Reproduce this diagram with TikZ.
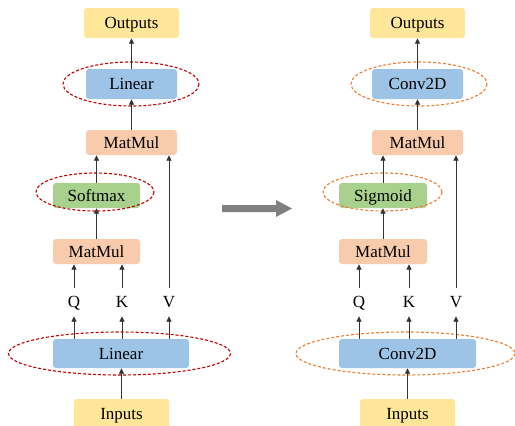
\documentclass[tikz,border=0pt]{standalone}
\usepackage{fontspec}
\setmainfont{Liberation Serif}
\usetikzlibrary{arrows.meta}
\definecolor{cyel}{HTML}{FFE699}
\definecolor{cblue}{HTML}{9DC3E6}
\definecolor{corg}{HTML}{F8CBAD}
\definecolor{cgrn}{HTML}{A9D18E}
\definecolor{cred}{HTML}{C00000}
\definecolor{cdash}{HTML}{ED7D31}
\definecolor{cgray}{HTML}{808080}
\begin{document}
\begin{tikzpicture}[x=1pt,y=-1pt,
  box/.style={rounded corners=3pt,inner sep=0pt,text height=11.3pt,text depth=0pt,font=\fontsize{17}{20}\selectfont},
  yel/.style={box,fill=cyel,minimum width=95pt,minimum height=30pt},
  blu/.style={box,fill=cblue},
  org/.style={box,fill=corg,minimum height=25pt},
  grn/.style={box,fill=cgrn,minimum height=25pt},
  lbl/.style={inner sep=0pt,minimum height=28pt,text height=11.3pt,text depth=0pt,font=\fontsize{17}{20}\selectfont},
  arr/.style={draw=black!80,line width=0.9pt,-{Triangle[length=5.5pt,width=5pt]}},
  ell/.style={dashed,dash pattern=on 3pt off 2pt,line width=1.1pt},
]
\useasboundingbox (0,0) rectangle (515,426);
% ---------------- left ----------------
\node[yel] (out1) at (131.5,23) {Outputs};
\node[blu,minimum width=91pt,minimum height=30pt] (lin2) at (131.5,84) {Linear};
\node[org,minimum width=91pt] (mm2) at (131.5,142.5) {MatMul};
\node[grn,minimum width=87pt] (soft) at (96.5,195.5) {Softmax};
\node[org,minimum width=87pt] (mm1) at (96.5,251.5) {MatMul};
\node[lbl] (q1) at (74,302) {Q};
\node[lbl] (k1) at (122,302) {K};
\node[lbl] (v1) at (169,302) {V};
\node[blu,minimum width=136pt,minimum height=29pt] (lin1) at (121,353.5) {Linear};
\node[yel] (in1) at (121.5,414) {Inputs};
\draw[ell,cred] (131,84) ellipse [x radius=68, y radius=22];
\draw[ell,cred] (95,192) ellipse [x radius=59, y radius=19];
\draw[ell,cred] (119.5,353.5) ellipse [x radius=111, y radius=21.5];
\draw[arr] (in1.north) -- (in1.north |- lin1.south);
\draw[arr] (q1 |- lin1.north) -- (q1.south);
\draw[arr] (k1 |- lin1.north) -- (k1.south);
\draw[arr] (v1 |- lin1.north) -- (v1.south);
\draw[arr] (q1.north) -- (q1 |- mm1.south);
\draw[arr] (k1.north) -- (k1 |- mm1.south);
\draw[arr] (mm1.north) -- (soft.south);
\draw[arr] (soft.north) -- (soft.north |- mm2.south);
\draw[arr] (v1.north) -- (v1 |- mm2.south);
\draw[arr] (mm2.north) -- (lin2.south);
\draw[arr] (lin2.north) -- (out1.south);
% ---------------- arrow ----------------
\fill[cgray] (222,205) -- (276,205) -- (276,200) -- (292,208.5) -- (276,217) -- (276,212) -- (222,212) -- cycle;
% ---------------- right ----------------
\node[yel] (out2) at (417.5,23) {Outputs};
\node[blu,minimum width=91pt,minimum height=30pt] (cv2) at (417.5,84) {Conv2D};
\node[org,minimum width=91pt] (mm4) at (417.5,142.5) {MatMul};
\node[grn,minimum width=88pt] (sig) at (383,195.5) {Sigmoid};
\node[org,minimum width=88pt] (mm3) at (383,251.5) {MatMul};
\node[lbl] (q2) at (359,302) {Q};
\node[lbl] (k2) at (409,302) {K};
\node[lbl] (v2) at (456,302) {V};
\node[blu,minimum width=137pt,minimum height=29pt] (cv1) at (407.5,353.5) {Conv2D};
\node[yel] (in2) at (407.5,414) {Inputs};
\draw[ell,cdash] (419,84) ellipse [x radius=68, y radius=22];
\draw[ell,cdash] (382.5,192) ellipse [x radius=59.5, y radius=19];
\draw[ell,cdash] (405.5,353.5) ellipse [x radius=109.5, y radius=21.5];
\draw[arr] (in2.north) -- (in2.north |- cv1.south);
\draw[arr] (q2 |- cv1.north) -- (q2.south);
\draw[arr] (k2 |- cv1.north) -- (k2.south);
\draw[arr] (v2 |- cv1.north) -- (v2.south);
\draw[arr] (q2.north) -- (q2 |- mm3.south);
\draw[arr] (k2.north) -- (k2 |- mm3.south);
\draw[arr] (mm3.north) -- (sig.south);
\draw[arr] (sig.north) -- (sig.north |- mm4.south);
\draw[arr] (v2.north) -- (v2 |- mm4.south);
\draw[arr] (mm4.north) -- (cv2.south);
\draw[arr] (cv2.north) -- (out2.south);
\end{tikzpicture}
\end{document}
